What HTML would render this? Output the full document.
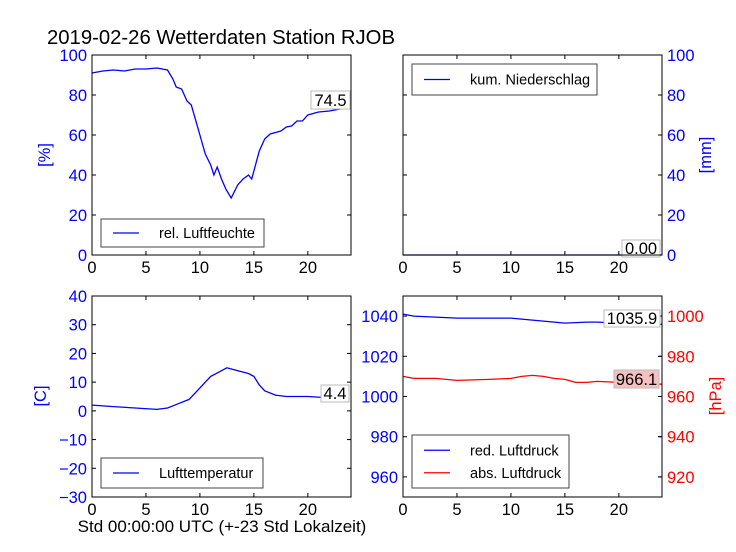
<!DOCTYPE html>
<html><head><meta charset="utf-8"><style>
body{margin:0;background:#fff;}
svg{display:block;font-family:"Liberation Sans","DejaVu Sans",sans-serif;}
</style></head><body>
<svg id="c" width="736" height="552" viewBox="0 0 736 552">
<rect width="736" height="552" fill="#fff"/>
<text x="47" y="44" font-size="20.3">2019-02-26 Wetterdaten Station RJOB</text>
<text x="222" y="532" font-size="17" text-anchor="middle">Std 00:00:00 UTC (+-23 Std Lokalzeit)</text>
</svg>
<script>
const humHours=[0,1,2,3,4,5,6,7,7.5,7.8,8.3,8.8,9.2,10,10.5,11,11.3,11.6,12,12.4,12.9,13.5,14,14.5,14.8,15.5,16,16.5,17.5,18,18.5,19,19.5,20,21,22,23,24];
const humVals=[91,92,92.5,92,93,93,93.5,92.5,88,84,83,77,75,60,50.5,45,40,44,38,33,28.5,35,38,40,38,52,58,60.5,62,64,64.5,67,67,70,71.5,72,73,74.5];
const rainHours=[0,24];
const rainVals=[0,0];
const tempHours=[0,2,4,6,7,8,9,10,11,12,12.5,13,14,14.5,15,15.5,16,17,18,20,22,23.6];
const tempVals=[2,1.5,1,0.5,1,2.5,4,8,12,14,15,14.5,13.5,13,12,9,7,5.5,5,5,4.5,4.4];
const presHours=[0,1,3,5,8,10,12,15,17,18,20,24];
const redVals=[1041,1040,1039.5,1039,1039,1039,1038,1036.5,1037,1037,1036.5,1035.9];
const absHours=[0,1,3,5,8,10,11,12,13,14,15,16,17,18,20,22,24];
const absVals=[970,969,969,968,968.5,969,970,970.5,970,969,968.5,967,967,967.5,967,966.5,966.1];
const xTicks=[0,5,10,15,20];
const humTicks=[0,20,40,60,80,100];
const tempTicks=[-30,-20,-10,0,10,20,30,40];
const presLTicks=[960,980,1000,1020,1040];
const presRTicks=[920,940,960,980,1000];

const svg=document.getElementById('c');
const NS='http://www.w3.org/2000/svg';
const FS=16.5;
function mk(tag,attrs,parent){const e=document.createElementNS(NS,tag);for(const k in attrs)e.setAttribute(k,attrs[k]);(parent||svg).appendChild(e);return e;}
function panel(x0,y0,x1,y1,name){
  const g=mk('g',{});
  
  
  return {x0,y0,x1,y1,g,sx:h=>x0+(x1-x0)*h/24};
}
function yScale(p,lo,hi){return v=>p.y1-(p.y1-p.y0)*(v-lo)/(hi-lo);}
function frame(p){const r=mk('rect',{x:p.x0,y:p.y0,width:p.x1-p.x0,height:p.y1-p.y0,fill:'none',stroke:'#000','stroke-width':1},p.g);}
function xAxis(p,labels){
  xTicks.forEach(t=>{const x=p.sx(t);
    mk('line',{x1:x,x2:x,y1:p.y1,y2:p.y1-4,stroke:'#000'},p.g);
    mk('line',{x1:x,x2:x,y1:p.y0,y2:p.y0+4,stroke:'#000'},p.g);
    if(labels){const t2=mk('text',{x:x,y:p.y1+18,'font-size':FS,'text-anchor':'middle'},p.g);t2.textContent=t;
      }
  });
}
function yAxis(p,ticks,ys,side,color,fmt){
  ticks.forEach(t=>{const y=ys(t);
    mk('line',{x1:p.x0,x2:p.x0+4,y1:y,y2:y,stroke:'#000'},p.g);
    mk('line',{x1:p.x1,x2:p.x1-4,y1:y,y2:y,stroke:'#000'},p.g);
    if(side){const x=side==='left'?p.x0-5:p.x1+5;
      const tx=mk('text',{x:x,y:y+6,'font-size':FS,'text-anchor':side==='left'?'end':'start',fill:color},p.g);
      tx.textContent=fmt?fmt(t):t;
      }
  });
}
function line(p,hs,vs,ys,color,name){
  const d=hs.map((h,i)=>(i?'L':'M')+p.sx(h).toFixed(1)+','+ys(vs[i]).toFixed(1)).join('');
  const e=mk('path',{d:d,fill:'none',stroke:color,'stroke-width':1.3},p.g);
  
}
function legend(p,x,y,w,h,items){
  const r=mk('rect',{x:x,y:y,width:w,height:h,fill:'#fff',stroke:'#444','stroke-width':1},p.g);
  
  items.forEach((it,i)=>{const cy=y+h/(items.length*2)*(2*i+1)+ (items.length>1?(i===0?2:-2):0);
    mk('line',{x1:x+12,x2:x+38,y1:cy,y2:cy,stroke:it[1],'stroke-width':1.3},p.g);
    const t=mk('text',{x:x+58,y:cy+5,'font-size':14.5},p.g);t.textContent=it[0];
    });
}
function valBox(p,x,y,w,h,txt,fill){
  const r=mk('rect',{x:x,y:y,width:w,height:h,fill:fill,stroke:'#bbb'},p.g);
  
  const t=mk('text',{x:x+w/2,y:y+h-3,'font-size':FS,'text-anchor':'middle'},p.g);t.textContent=txt;
  
}
function ylabel(x,y,txt,color,name){const t=mk('text',{x:x,y:y,'font-size':FS,fill:color,'text-anchor':'middle',transform:'rotate(-90 '+x+' '+y+')'});t.textContent=txt;
  }
const fmtM=t=>t<0?'\u2212'+(-t):t;

// TL humidity
let p=panel(92,55,351,255,'humidity-panel');let ys=yScale(p,0,100);
xAxis(p,true);yAxis(p,humTicks,ys,'left','#00f');
line(p,humHours,humVals,ys,'#00f','humidity-line');
legend(p,101,219,163,28,[['rel. Luftfeuchte','#00f']]);
valBox(p,311,91,39,18,'74.5','#fff');frame(p);
ylabel(50,155,'[%]','#00f','humidity-y-title');

// TR rain
p=panel(403,55,662,255,'precipitation-panel');ys=yScale(p,0,100);
xAxis(p,true);yAxis(p,humTicks,ys,'right','#00f');
line(p,rainHours,rainVals,ys,'#00f','precipitation-line');
legend(p,412,64,185,31,[['kum. Niederschlag','#00f']]);
valBox(p,622,240,38,17,'0.00','#fff');frame(p);
ylabel(711,155,'[mm]','#00f','precipitation-y-title');

// BL temp
p=panel(92,296,351,497,'temperature-panel');ys=yScale(p,-30,40);
xAxis(p,true);yAxis(p,tempTicks,ys,'left','#00f',fmtM);
line(p,tempHours,tempVals,ys,'#00f','temperature-line');
legend(p,101,458,162,30,[['Lufttemperatur','#00f']]);
valBox(p,321,385,28,17,'4.4','#fff');frame(p);
ylabel(46,396,'[C]','#00f','temperature-y-title');

// BR pressure
p=panel(403,296,662,497,'pressure-panel');ys=yScale(p,950,1050);const ysR=yScale(p,910,1010);
xAxis(p,true);yAxis(p,presLTicks,ys,'left','#00f');
presRTicks.forEach(t=>{const y=ysR(t);const tx=mk('text',{x:667,y:y+6,'font-size':FS,fill:'#f00'},p.g);tx.textContent=t;
  
  mk('line',{x1:662,x2:658,y1:y,y2:y,stroke:'#000'},p.g);});
line(p,presHours,redVals,ys,'#00f','red-pressure-line');
line(p,absHours,absVals,ysR,'#f00','abs-pressure-line');
legend(p,412,435,157,53,[['red. Luftdruck','#00f'],['abs. Luftdruck','#f00']]);
valBox(p,604,310,56,17,'1035.9','#fff');
valBox(p,614,370,45,18,'966.1','#f4c0c0');frame(p);
ylabel(721,396,'[hPa]','#f00','pressure-y-title');
</script>
</body></html>
